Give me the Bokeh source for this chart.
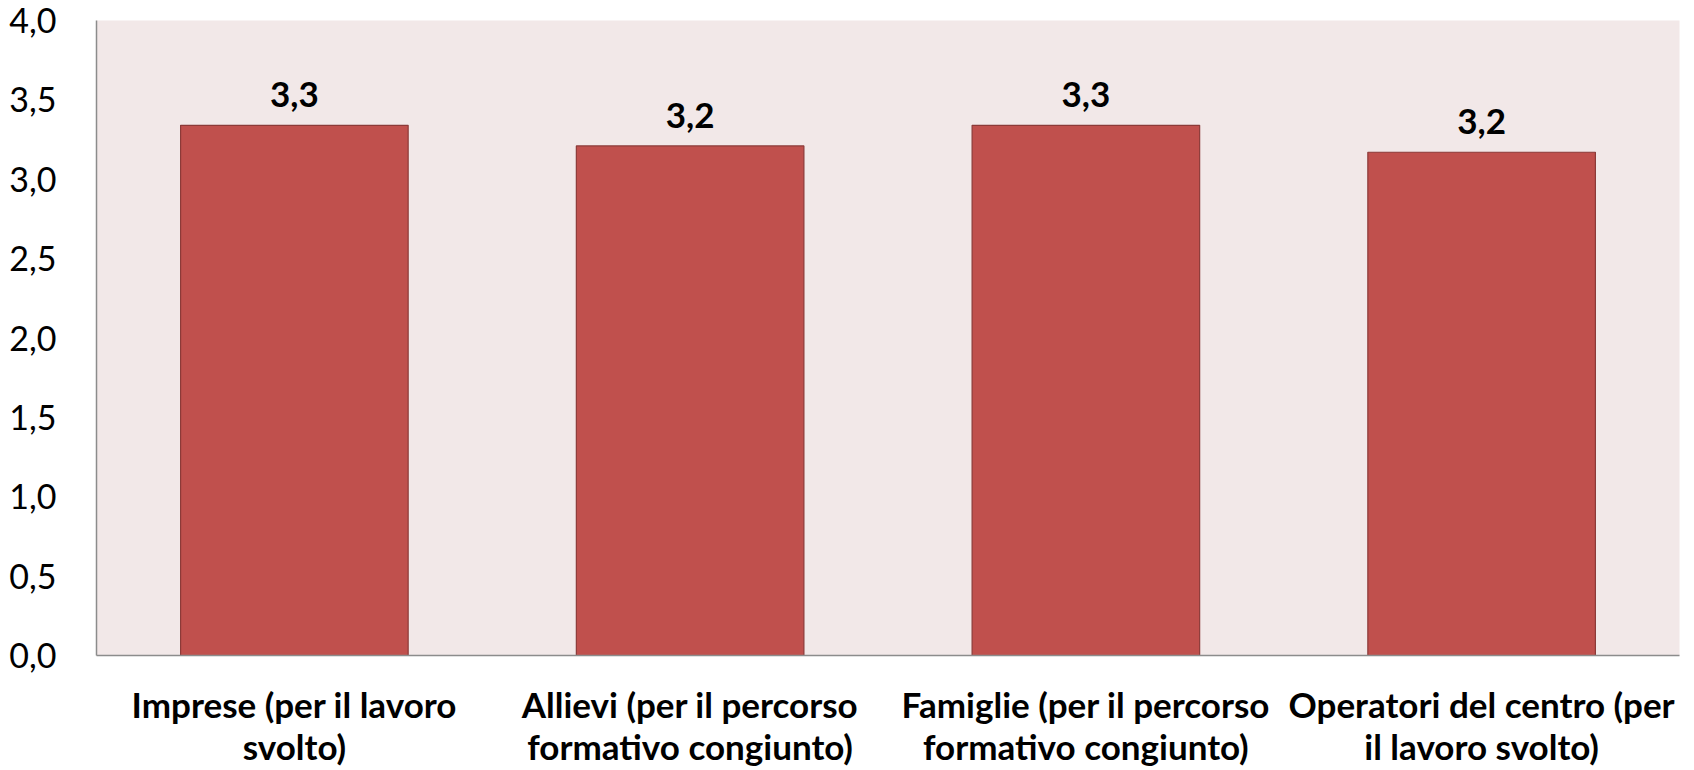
from bokeh.plotting import figure
from bokeh.models import Range1d, FixedTicker, CustomJSTickFormatter, ColumnDataSource
from bokeh.core.properties import value
from bokeh.embed import file_html
from bokeh.resources import INLINE

categories = [
    "Imprese (per il lavoro\nsvolto)",
    "Allievi (per il percorso\nformativo congiunto)",
    "Famiglie (per il percorso\nformativo congiunto)",
    "Operatori del centro (per\nil lavoro svolto)",
]
values = [3.34, 3.21, 3.34, 3.17]
value_labels = ["3,3", "3,2", "3,3", "3,2"]
y_ticks = [0.0, 0.5, 1.0, 1.5, 2.0, 2.5, 3.0, 3.5, 4.0]

FONT = "Lato"

src = ColumnDataSource(dict(cat=categories, val=values, lab=value_labels))

p = figure(
    x_range=categories,
    y_range=Range1d(0, 4),
    width=1686,
    height=769,
    output_backend="svg",
    toolbar_location=None,
    min_border_left=96,
    min_border_right=7,
    min_border_top=20,
    min_border_bottom=105,
)
p.background_fill_color = "#F2E8E8"
p.border_fill_color = "white"
p.outline_line_color = None
p.xgrid.grid_line_color = None
p.ygrid.grid_line_color = None
p.x_range.range_padding = 0
p.x_range.group_padding = 0

p.vbar(x="cat", top="val", width=0.575, source=src,
       fill_color="#C0504D", line_color="#8C3A38", line_width=1.2)

p.text(x="cat", y="val", text="lab", source=src,
       text_align="center", text_baseline="bottom", y_offset=-18,
       text_font=value(FONT), text_font_style="bold",
       text_font_size="35px", text_color="black")

p.yaxis.ticker = FixedTicker(ticks=y_ticks)
p.yaxis.formatter = CustomJSTickFormatter(code="return tick.toFixed(1).replace('.', ',');")
p.yaxis.major_label_text_font = FONT
p.yaxis.major_label_text_font_size = "34px"
p.yaxis.major_label_text_color = "black"
p.yaxis.major_label_standoff = 34
p.yaxis.major_tick_line_color = None
p.yaxis.minor_tick_line_color = None
p.yaxis.axis_line_color = "#8C8C8C"
p.yaxis.axis_line_width = 1.5

p.xaxis.major_label_text_font = FONT
p.xaxis.major_label_text_font_style = "bold"
p.xaxis.major_label_text_font_size = "35px"
p.xaxis.major_label_text_color = "black"
p.xaxis.major_label_text_line_height = 1.0
p.xaxis.major_label_standoff = 21
p.xaxis.major_tick_line_color = None
p.xaxis.minor_tick_line_color = None
p.xaxis.axis_line_color = "#8C8C8C"
p.xaxis.axis_line_width = 1.5

open("out.html", "w").write(file_html(p, INLINE))
